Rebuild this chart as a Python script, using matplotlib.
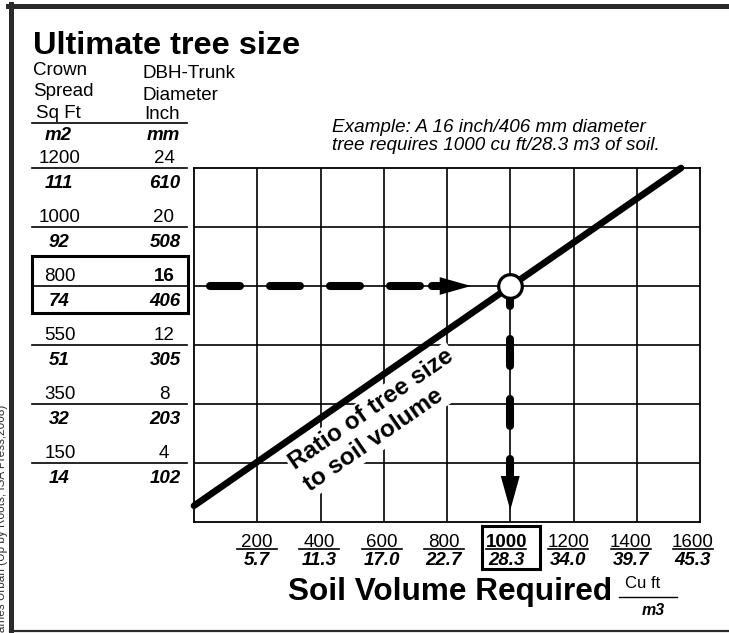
import numpy as np
import matplotlib
matplotlib.use("Agg")
import matplotlib.pyplot as plt
from matplotlib import transforms
from matplotlib.lines import Line2D
from matplotlib.patches import Rectangle

plt.rcParams['font.family'] = ['Liberation Sans', 'DejaVu Sans']
plt.rcParams['lines.scale_dashes'] = False

# table on the left: one row per grid line
crown_sqft = [1200, 1000, 800, 550, 350, 150]
crown_m2 = [111, 92, 74, 51, 32, 14]
dbh_inch = [24, 20, 16, 12, 8, 4]
dbh_mm = [610, 508, 406, 305, 203, 102]

# soil volume axis
soil_cuft = [200, 400, 600, 800, 1000, 1200, 1400, 1600]
soil_m3 = ["5.7", "11.3", "17.0", "22.7", "28.3", "34.0", "39.7", "45.3"]

# ratio line (cu ft, inch)
ratio_cuft = [0, 1540]
ratio_inch = [1.1, 24]

# worked example
example_cuft = 1000
example_inch = 16
# guide lines: horizontal dashes (cu ft), shaft piece, arrow head base/tip
guide_h = [51, 714]
guide_h_shaft = [752, 793]
guide_h_head = [777, 876]
# vertical guide (inch)
guide_v = [16.47, 3.12]
guide_v_head = [3.12, 0.8]

W, H = 729, 633
fig = plt.figure(figsize=(W / 100, H / 100), dpi=100)
ax = fig.add_axes([194 / W, 1 - 522 / H, (700 - 194) / W, (522 - 168) / H])
ax.set_xlim(0, 1600)
ax.set_ylim(0, 24)
ax.set_xticks([])
ax.set_yticks([])
for s in ax.spines.values():
    s.set_linewidth(1.3)

# grid
ax.vlines(soil_cuft[:-1], 0, 24, color="black", lw=1.2, zorder=1)
ax.hlines(dbh_inch[1:], 0, 1600, color="black", lw=1.2, zorder=1)

# ratio line
ax.plot(ratio_cuft, ratio_inch, color="black", lw=4.8, solid_capstyle="round",
        clip_on=False, zorder=5)

p0 = ax.transData.transform((ratio_cuft[0], ratio_inch[0]))
p1 = ax.transData.transform((ratio_cuft[1], ratio_inch[1]))
ang = np.degrees(np.arctan2(p1[1] - p0[1], p1[0] - p0[0]))
ax.text(585, 6.9, "Ratio of tree size\nto soil volume", rotation=ang,
        rotation_mode="anchor", ha="center", va="center", multialignment="left",
        fontsize=17.5, fontweight="bold", linespacing=1.2,
        bbox=dict(fc="white", ec="none", pad=1.5), zorder=3)

# example guides
ax.plot(guide_h, [example_inch] * 2, color="black", lw=5.8,
        ls=(0, (21.6, 21.6)), dash_capstyle="round", zorder=4)
ax.plot(guide_h_shaft, [example_inch] * 2, color="black", lw=5.8,
        solid_capstyle="round", zorder=4)
ax.arrow(guide_h_head[0], example_inch, guide_h_head[1] - guide_h_head[0], 0,
         width=0.01, head_width=1.2, head_length=guide_h_head[1] - guide_h_head[0],
         length_includes_head=True, fc="black", ec="black", lw=0, zorder=4)
ax.plot([example_cuft] * 2, guide_v, color="black", lw=5.8,
        ls=(0, (19.4, 23.8)), dash_capstyle="round", zorder=4)
ax.arrow(example_cuft, guide_v_head[0], 0, guide_v_head[1] - guide_v_head[0],
         width=0.01, head_width=60, head_length=guide_v_head[0] - guide_v_head[1],
         length_includes_head=True, fc="black", ec="black", lw=0, zorder=4,
         clip_on=False)
ax.plot(example_cuft, example_inch, "o", ms=17, mfc="white", mec="black",
        mew=2.3, zorder=6, clip_on=False)

# left table
trans = transforms.blended_transform_factory(fig.transFigure, ax.transData)
for sq, m2, inch, mm in zip(crown_sqft, crown_m2, dbh_inch, dbh_mm):
    ax.add_line(Line2D([32 / W, 187 / W], [inch, inch], transform=trans,
                       color="black", lw=1.2, clip_on=False))
    ax.annotate(str(sq), xy=(60 / W, inch), xycoords=trans, xytext=(0, 3.6),
                textcoords="offset points", ha="center", va="baseline", fontsize=13.5)
    ax.annotate(str(m2), xy=(59 / W, inch), xycoords=trans, xytext=(0, -14.4),
                textcoords="offset points", ha="center", va="baseline",
                fontsize=13.5, fontweight="bold", style="italic")
    ax.annotate(str(inch), xy=(164 / W, inch), xycoords=trans, xytext=(0, 3.6),
                textcoords="offset points", ha="center", va="baseline", fontsize=13.5,
                fontweight="bold" if inch == example_inch else "normal")
    ax.annotate(str(mm), xy=(165 / W, inch), xycoords=trans, xytext=(0, -14.4),
                textcoords="offset points", ha="center", va="baseline",
                fontsize=13.5, fontweight="bold", style="italic")

px_in = 24 / 354
ax.add_patch(Rectangle((32 / W, example_inch - 27 * px_in), 156 / W, 57 * px_in,
                       transform=trans, fill=False, ec="black", lw=2.2, clip_on=False))

# header
fig.text(33 / W, 1 - 54 / H, "Ultimate tree size", fontsize=23.4, fontweight="bold")
fig.text(33 / W, 1 - 75 / H, "Crown", fontsize=13.5)
fig.text(33 / W, 1 - 96 / H, "Spread", fontsize=13.5)
fig.text(36 / W, 1 - 118 / H, "Sq Ft", fontsize=13.5)
fig.text(58 / W, 1 - 140 / H, "m2", fontsize=13.5, fontweight="bold", style="italic",
         ha="center")
fig.text(142 / W, 1 - 78 / H, "DBH-Trunk", fontsize=13.5)
fig.text(142 / W, 1 - 100 / H, "Diameter", fontsize=13.5)
fig.text(162 / W, 1 - 119 / H, "Inch", fontsize=13.5, ha="center")
fig.text(163 / W, 1 - 140 / H, "mm", fontsize=13.5, fontweight="bold", style="italic",
         ha="center")
fig.add_artist(Line2D([32 / W, 187 / W], [1 - 123 / H] * 2, color="black", lw=1.2))

fig.text(332 / W, 1 - 132 / H, "Example: A 16 inch/406 mm diameter",
         fontsize=13.6, style="italic")
fig.text(332 / W, 1 - 150 / H, "tree requires 1000 cu ft/28.3 m3 of soil.",
         fontsize=13.6, style="italic")

# bottom axis labels
px_cf = 1600 / 506
for cf, m3 in zip(soil_cuft, soil_m3):
    lx = cf - (cf - 200) * 0.016
    big = cf == example_cuft
    ax.annotate(str(cf), xy=(lx, 0), xytext=(0, -18), textcoords="offset points",
                ha="center", va="baseline", fontsize=13.5,
                fontweight="bold" if big else "normal", annotation_clip=False)
    ax.plot([lx - 20 * px_cf, lx + 20 * px_cf], [-26.5 * px_in] * 2, color="black",
            lw=1.2, clip_on=False)
    ax.annotate(m3, xy=(lx, 0), xytext=(0, -31.3), textcoords="offset points",
                ha="center", va="baseline", fontsize=13.5, fontweight="bold",
                style="italic", annotation_clip=False)
ax.add_patch(Rectangle((example_cuft - 90, -47 * px_in), 183, 43 * px_in,
                       fill=False, ec="black", lw=2.2, clip_on=False))

fig.text(288 / W, 1 - 600 / H, "Soil Volume Required", fontsize=22.7, fontweight="bold")
fig.text(643 / W, 1 - 588 / H, "Cu ft", fontsize=12, ha="center")
fig.add_artist(Line2D([619 / W, 677 / W], [1 - 597 / H] * 2, color="black", lw=1.0))
fig.text(653 / W, 1 - 615 / H, "m3", fontsize=11.5, fontweight="bold", style="italic",
         ha="center")

# frame and credit (the credit runs off the left edge, as in the source)
fig.add_artist(Line2D([8 / W, 1], [1 - 5.5 / H] * 2, color="#2a2a2a", lw=3.6))
fig.add_artist(Line2D([10.5 / W] * 2, [0, 1 - 3.5 / H], color="#2a2a2a", lw=3.6))
fig.add_artist(Line2D([10 / W, 1], [1 - 631 / H] * 2, color="#2a2a2a", lw=1.6))
fig.text(2 / W, 1 - 405 / H, "James Urban (Up by Roots, ISA Press,2008)",
         rotation=90, ha="center", va="top", fontsize=8.5, color="#333333")

fig.savefig("out.png", dpi=100)
